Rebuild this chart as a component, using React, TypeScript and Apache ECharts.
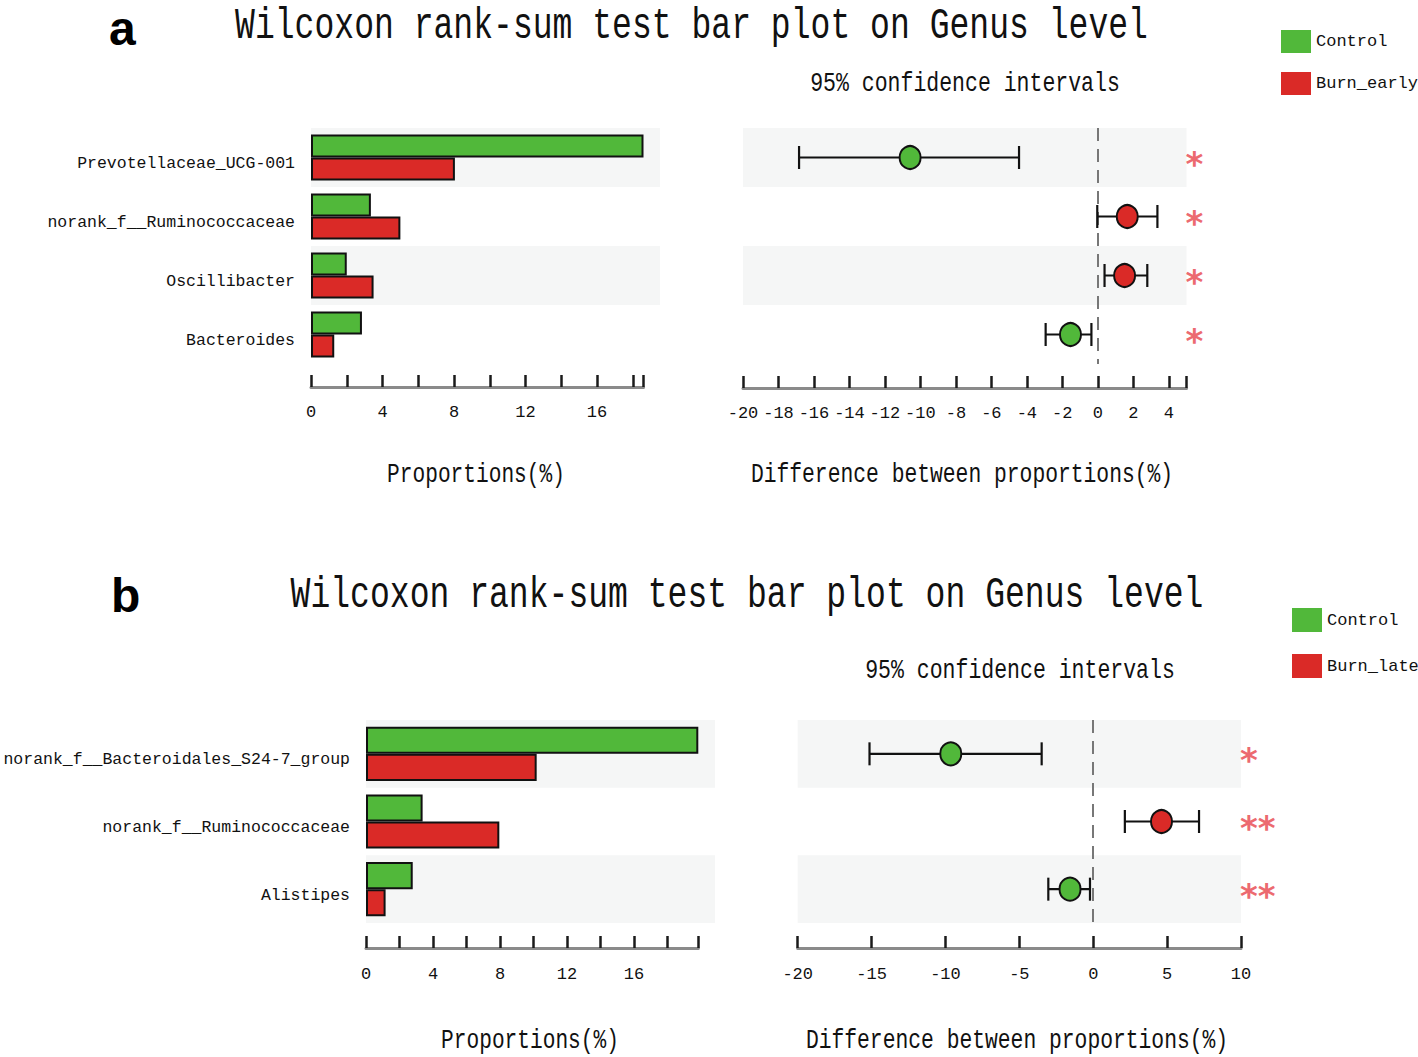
import React, { useEffect, useRef } from "react";
import * as echarts from "echarts";

// ---------- data ----------
const catsA = ["Prevotellaceae_UCG-001", "norank_f__Ruminococcaceae", "Oscillibacter", "Bacteroides"];
const controlA = [18.6, 3.35, 2.0, 2.85];
const burnEarlyA = [8.05, 5.0, 3.5, 1.3];
const diffA = [-10.58, 1.66, 1.51, -1.54];
const ciLowA = [-16.84, -0.03, 0.38, -2.94];
const ciHighA = [-4.44, 3.36, 2.79, -0.36];
const sigA = ["*", "*", "*", "*"];

const catsB = ["norank_f__Bacteroidales_S24-7_group", "norank_f__Ruminococcaceae", "Alistipes"];
const controlB = [19.84, 3.38, 2.79];
const burnLateB = [10.19, 7.96, 1.17];
const diffB = [-9.64, 4.62, -1.57];
const ciLowB = [-15.14, 2.14, -3.04];
const ciHighB = [-3.49, 7.16, -0.22];
const sigB = ["*", "**", "**"];

const propTickLabels = [0, 4, 8, 12, 16];
const diffTickLabelsA = [-20, -18, -16, -14, -12, -10, -8, -6, -4, -2, 0, 2, 4];
const diffTickLabelsB = [-20, -15, -10, -5, 0, 5, 10];

const TITLE = "Wilcoxon rank-sum test bar plot on Genus level";

// ---------- styles ----------
const GREEN = "#51b83a";
const RED = "#da2a27";
const PINK = "#ec6a70";
const STRIPE = "#f5f6f6";
const MONO = '"Liberation Mono", "DejaVu Sans Mono", monospace';

const fmt = (list: number[]) => (v: number) => {
  const r = Math.round(v * 1000) / 1000;
  return list.indexOf(r) >= 0 ? String(r) : "";
};

const valueAxisBase = (gridIndex: number, min: number, max: number, interval: number, labels: number[], offset: number, margin: number) => ({
  type: "value",
  gridIndex,
  min,
  max,
  interval,
  position: "bottom",
  offset,
  splitLine: { show: false },
  axisLine: { show: true, lineStyle: { color: "#8a8a8a", width: 3 } },
  axisTick: { show: true, inside: true, length: 12, lineStyle: { color: "#1a1a1a", width: 2.5 } },
  axisLabel: { show: true, formatter: fmt(labels), fontFamily: MONO, fontSize: 17, color: "#111", margin },
});

const hiddenValueAxis = (gridIndex: number) => ({
  type: "value",
  gridIndex,
  min: 0,
  max: 1,
  show: false,
});

const stripeCatAxis = (gridIndex: number, cats: string[]) => ({
  type: "category",
  gridIndex,
  data: cats,
  inverse: true,
  axisLine: { show: false },
  axisTick: { show: false },
  axisLabel: { show: false },
  splitLine: { show: false },
  splitArea: { show: true, areaStyle: { color: [STRIPE, "rgba(255,255,255,0)"] } },
});

const catLabelAxis = (gridIndex: number, cats: string[]) => ({
  type: "category",
  gridIndex,
  data: cats,
  inverse: true,
  axisLine: { show: false },
  axisTick: { show: false },
  axisLabel: {
    fontFamily: MONO,
    fontSize: 16.5,
    color: "#111",
    margin: 16,
    verticalAlign: "top",
    lineHeight: 12,
  },
});

const sigAxis = (gridIndex: number, sig: string[]) => ({
  type: "category",
  gridIndex,
  data: sig,
  inverse: true,
  position: "right",
  axisLine: { show: false },
  axisTick: { show: false },
  axisLabel: {
    color: PINK,
    fontFamily: '"DejaVu Sans", sans-serif',
    fontWeight: "bold",
    fontSize: 34,
    margin: -1,
    verticalAlign: "top",
    lineHeight: 13,
  },
});

const errorBarRender = (params: any, api: any) => {
  const y = api.value(2);
  const p1 = api.coord([api.value(0), y]);
  const p2 = api.coord([api.value(1), y]);
  const h = 11.5;
  const style = { stroke: "#111", lineWidth: 2.2, fill: null };
  return {
    type: "group",
    children: [
      { type: "line", shape: { x1: p1[0], y1: p1[1], x2: p2[0], y2: p2[1] }, style },
      { type: "line", shape: { x1: p1[0], y1: p1[1] - h, x2: p1[0], y2: p1[1] + h }, style },
      { type: "line", shape: { x1: p2[0], y1: p2[1] - h, x2: p2[0], y2: p2[1] + h }, style },
    ],
  };
};

const scaledText = (text: string, x: number, y: number, size: number, scaleX: number) => ({
  type: "text",
  x,
  y,
  scaleX,
  silent: true,
  style: {
    text,
    fontFamily: MONO,
    fontSize: size,
    fill: "#111",
    textAlign: "center",
    align: "center",
    textVerticalAlign: "middle",
    verticalAlign: "middle",
  },
});

const letter = (text: string, x: number, y: number) => ({
  type: "text",
  x,
  y,
  silent: true,
  style: {
    text,
    fontFamily: '"Liberation Sans", Arial, sans-serif',
    fontWeight: "bold",
    fontSize: 48,
    fill: "#000",
    textAlign: "left",
    align: "left",
    textVerticalAlign: "middle",
    verticalAlign: "middle",
  },
});

const barItem = (color: string) => ({ color, borderColor: "#111", borderWidth: 2 });

const ciMarkLine = {
  silent: true,
  symbol: "none",
  label: { show: false },
  lineStyle: { color: "#777", type: [13, 8], width: 2 },
  data: [{ xAxis: 0 }],
  z: 1,
};

const pointStyle = {
  color: (p: any) => (p.value[0] < 0 ? GREEN : RED),
  borderColor: "#111",
  borderWidth: 2,
  opacity: 1,
};

function buildOption(): any {
  return {
    animation: false,
    backgroundColor: "#ffffff",
    grid: [
      { left: 311, top: 128, width: 332.5, height: 236, outerBoundsMode: "none" }, // 0 a bars
      { left: 311, top: 128, width: 349, height: 236, outerBoundsMode: "none" }, // 1 a bars stripes
      { left: 743, top: 128, width: 443.5, height: 236, outerBoundsMode: "none" }, // 2 a CI
      { left: 366, top: 720, width: 332.3, height: 203, outerBoundsMode: "none" }, // 3 b bars
      { left: 366, top: 720, width: 349, height: 203, outerBoundsMode: "none" }, // 4 b bars stripes
      { left: 797.7, top: 720, width: 443.3, height: 203, outerBoundsMode: "none" }, // 5 b CI
    ],
    xAxis: [
      valueAxisBase(0, 0, Math.max(...controlA, ...burnEarlyA), 2, propTickLabels, 23, 17),
      hiddenValueAxis(1),
      valueAxisBase(2, -20, 5, 2, diffTickLabelsA, 24, 17),
      valueAxisBase(3, 0, Math.max(...controlB, ...burnLateB), 2, propTickLabels, 25, 18),
      hiddenValueAxis(4),
      valueAxisBase(5, -20, 10, 5, diffTickLabelsB, 25, 18),
    ],
    yAxis: [
      catLabelAxis(0, catsA),
      stripeCatAxis(1, catsA),
      stripeCatAxis(2, catsA),
      sigAxis(2, sigA),
      catLabelAxis(3, catsB),
      stripeCatAxis(4, catsB),
      stripeCatAxis(5, catsB),
      sigAxis(5, sigB),
    ],
    legend: [
      {
        left: 1276,
        top: 25,
        orient: "vertical",
        icon: "rect",
        itemWidth: 30,
        itemHeight: 23,
        itemGap: 19,
        data: ["Control", "Burn_early"],
        itemStyle: { borderWidth: 0 },
        textStyle: { fontFamily: MONO, fontSize: 17, color: "#111" },
        selectedMode: false,
      },
      {
        left: 1287,
        top: 603,
        orient: "vertical",
        icon: "rect",
        itemWidth: 30,
        itemHeight: 24,
        itemGap: 22,
        data: ["Control", "Burn_late"],
        itemStyle: { borderWidth: 0 },
        textStyle: { fontFamily: MONO, fontSize: 17, color: "#111" },
        selectedMode: false,
      },
    ],
    series: [
      {
        name: "Control",
        type: "bar",
        xAxisIndex: 0,
        yAxisIndex: 0,
        data: controlA,
        barGap: "0%",
        barCategoryGap: "22%",
        itemStyle: barItem(GREEN),
      },
      {
        name: "Burn_early",
        type: "bar",
        xAxisIndex: 0,
        yAxisIndex: 0,
        data: burnEarlyA,
        barGap: "0%",
        barCategoryGap: "22%",
        itemStyle: barItem(RED),
      },
      {
        name: "CI_a",
        type: "custom",
        xAxisIndex: 2,
        yAxisIndex: 2,
        renderItem: errorBarRender,
        encode: { x: [0, 1], y: 2 },
        data: ciLowA.map((l, i) => [l, ciHighA[i], i]),
        z: 3,
      },
      {
        name: "Diff_a",
        type: "scatter",
        xAxisIndex: 2,
        yAxisIndex: 2,
        symbol: "circle",
        symbolSize: [21, 23],
        data: diffA.map((d, i) => [d, i]),
        itemStyle: pointStyle,
        z: 4,
        markLine: ciMarkLine,
      },
      {
        name: "Control",
        type: "bar",
        xAxisIndex: 3,
        yAxisIndex: 4,
        data: controlB,
        barGap: "0%",
        barCategoryGap: "20%",
        itemStyle: barItem(GREEN),
      },
      {
        name: "Burn_late",
        type: "bar",
        xAxisIndex: 3,
        yAxisIndex: 4,
        data: burnLateB,
        barGap: "0%",
        barCategoryGap: "20%",
        itemStyle: barItem(RED),
      },
      {
        name: "CI_b",
        type: "custom",
        xAxisIndex: 5,
        yAxisIndex: 6,
        renderItem: errorBarRender,
        encode: { x: [0, 1], y: 2 },
        data: ciLowB.map((l, i) => [l, ciHighB[i], i]),
        z: 3,
      },
      {
        name: "Diff_b",
        type: "scatter",
        xAxisIndex: 5,
        yAxisIndex: 6,
        symbol: "circle",
        symbolSize: [21, 23],
        data: diffB.map((d, i) => [d, i]),
        itemStyle: pointStyle,
        z: 4,
        markLine: ciMarkLine,
      },
    ],
    graphic: [
      letter("a", 109, 28),
      letter("b", 111, 595),
      scaledText(TITLE, 691.5, 27, 44, 0.752),
      scaledText(TITLE, 747, 596, 44, 0.752),
      scaledText("95% confidence intervals", 965, 83, 28, 0.768),
      scaledText("95% confidence intervals", 1020, 670, 28, 0.768),
      scaledText("Proportions(%)", 476, 474, 28, 0.756),
      scaledText("Difference between proportions(%)", 962, 474, 28, 0.762),
      scaledText("Proportions(%)", 530, 1040, 28, 0.756),
      scaledText("Difference between proportions(%)", 1017, 1040, 28, 0.762),
    ],
  };
}

export default function App() {
  const ref = useRef<HTMLDivElement>(null);
  useEffect(() => {
    if (!ref.current) return;
    const chart = echarts.init(ref.current, null, { renderer: "svg" });
    chart.setOption(buildOption());
    return () => chart.dispose();
  }, []);
  return (
    <div
      ref={ref}
      style={{ position: "fixed", left: 0, top: 0, width: 1418, height: 1057, background: "#fff" }}
    />
  );
}
